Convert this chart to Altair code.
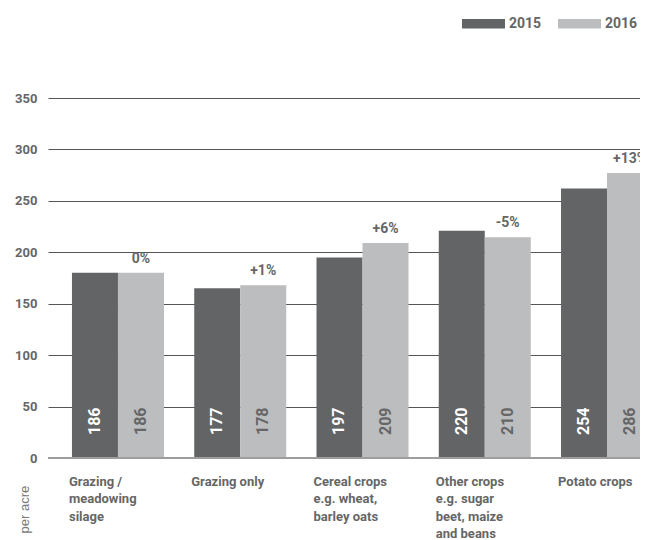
import altair as alt
import pandas as pd

categories = ["Grazing /|meadowing|silage", "Grazing only",
              "Cereal crops|e.g. wheat,|barley oats",
              "Other crops|e.g. sugar|beet, maize|and beans", "Potato crops"]
years = ["2015", "2016"]
bar_2015 = [180, 165, 195, 221, 262]
bar_2016 = [180, 168, 209, 214.5, 277]
label_2015 = [186, 177, 197, 220, 254]
label_2016 = [186, 178, 209, 210, 286]
changes = ["0%", "+1%", "+6%", "-5%", "+13%"]
y_ticks = [0, 50, 100, 150, 200, 250, 300, 350]

rows = []
for i, c in enumerate(categories):
    rows.append({"cat": c, "year": "2015", "value": bar_2015[i], "label": str(label_2015[i]), "chg": changes[i]})
    rows.append({"cat": c, "year": "2016", "value": bar_2016[i], "label": str(label_2016[i]), "chg": changes[i]})
df = pd.DataFrame(rows)

TXT = "#666666"
DARK = "#636466"
LIGHT = "#bcbdbf"

x_enc = alt.X("cat:N", sort=categories,
              scale=alt.Scale(range=[0, 629], paddingInner=0.2474, paddingOuter=0.196),
              axis=alt.Axis(title=None, domain=False, ticks=False, labelAngle=0, labelAlign="left",
                            labelOffset=-49, labelBaseline="top", labelPadding=17,
                            labelExpr="split(datum.label, '|')", labelLineHeight=17.5,
                            labelFontSize=13, labelFontWeight="bold", labelColor=TXT,
                            labelOverlap=False, labelLimit=300))
xo_enc = alt.XOffset("year:N", scale=alt.Scale(paddingInner=0, paddingOuter=0))

base = alt.Chart(df)

bars = base.mark_bar().encode(
    x=x_enc,
    xOffset=xo_enc,
    y=alt.Y("value:Q", scale=alt.Scale(domain=[0, 350], nice=False),
            axis=alt.Axis(values=y_ticks, title="per acre",
                          domain=False, ticks=False, gridColor="#555555", gridWidth=1,
                          labelFontSize=13, labelFontWeight="bold", labelColor=TXT,
                          labelPadding=11, titleAngle=270, titleX=-24, titleY=435,
                          titleAlign="left", titleBaseline="middle", titleFontSize=13,
                          titleFontWeight="normal", titleColor="#777777", titleFont="Liberation Sans")),
    color=alt.Color("year:N", scale=alt.Scale(domain=years, range=[DARK, LIGHT]),
                    legend=alt.Legend(title=None, orient="none", legendX=414, legendY=-96,
                                      direction="horizontal",
                                      symbolType="M-1,-0.22L1,-0.22L1,0.22L-1,0.22Z",
                                      symbolSize=1849, symbolStrokeWidth=0, labelOffset=4,
                                      columnPadding=16, labelFontSize=14, labelFontWeight="bold",
                                      labelColor=TXT))
)

zero = base.mark_rule(color="#9d9d9d", strokeWidth=2).encode(y=alt.datum(0))

vt_dark = base.transform_filter(alt.datum.year == "2015").mark_text(
    angle=270, align="left", baseline="middle", dx=23, fontSize=16, fontWeight="bold", color="white"
).encode(x=alt.X("cat:N", sort=categories), xOffset="year:N", y=alt.datum(0), text="label:N")

vt_light = base.transform_filter(alt.datum.year == "2016").mark_text(
    angle=270, align="left", baseline="middle", dx=23, fontSize=16, fontWeight="bold", color=TXT
).encode(x=alt.X("cat:N", sort=categories), xOffset="year:N", y=alt.datum(0), text="label:N")

pct = base.transform_filter(alt.datum.year == "2016").mark_text(
    align="center", baseline="alphabetic", dy=-10, fontSize=14, fontWeight="bold", color=TXT
).encode(x=alt.X("cat:N", sort=categories), xOffset="year:N", y="value:Q", text="chg:N")

chart = alt.layer(bars, zero, vt_dark, vt_light, pct).properties(
    width=592, height=360,
    autosize=alt.AutoSizeParams(type="none"),
    padding={"left": 40, "top": 90, "right": 0, "bottom": 82},
).configure(font="Roboto").configure_view(strokeWidth=0)

chart.save("out.html", embed_options={"renderer": "svg", "actions": False})
